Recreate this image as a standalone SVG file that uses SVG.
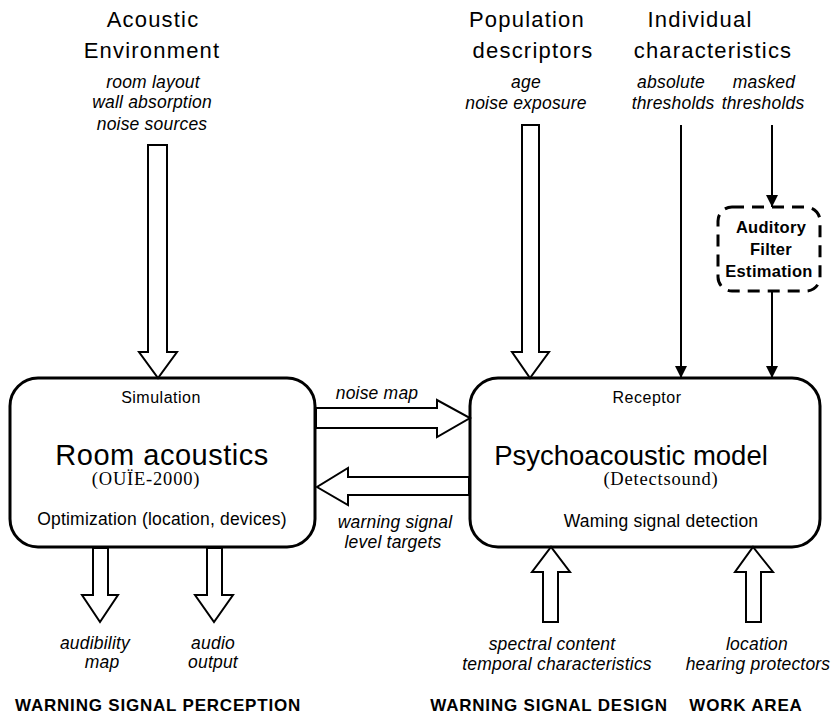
<svg xmlns="http://www.w3.org/2000/svg" width="833" height="718" viewBox="0 0 833 718">
<style>
text{font-family:"Liberation Sans",Arial,sans-serif;fill:#000;text-anchor:middle}
.t{font-size:22px;letter-spacing:1.2px}
.i{font-size:17.5px;font-style:italic;letter-spacing:0.2px}
.s{font-size:16px;letter-spacing:0.5px}
.big{font-size:29px;letter-spacing:0.5px}
.big2{font-size:27.5px}
.ser{font-family:"Liberation Serif","Times New Roman",serif;font-size:18.5px;letter-spacing:0.8px}
.m{font-size:17.5px;letter-spacing:0.2px}
.b{font-size:17px;font-weight:bold;letter-spacing:0.8px}
.af{font-size:16.5px;font-weight:bold;letter-spacing:0.3px}
.box{fill:#fff;stroke:#000;stroke-width:3}
.ha{fill:#fff;stroke:#000;stroke-width:2;stroke-linejoin:miter}
.ln{stroke:#000;stroke-width:2;fill:none}
</style>
<defs>
<marker id="ah" markerWidth="12" markerHeight="12" viewBox="0 0 12 12" refX="12" refY="6" orient="auto" markerUnits="userSpaceOnUse">
<path d="M0,0 L12,6 L0,12 Z" fill="#000"/>
</marker>
</defs>

<g id="acoustic-environment">
<text class="t" x="153" y="27">Acoustic</text>
<text class="t" x="152" y="58">Environment</text>
<text class="i" x="153" y="88">room layout</text>
<text class="i" x="152" y="108">wall absorption</text>
<text class="i" x="152" y="130">noise sources</text>
</g>

<g id="population-descriptors">
<text class="t" x="527" y="27">Population</text>
<text class="t" x="533" y="58">descriptors</text>
<text class="i" x="526" y="88">age</text>
<text class="i" x="526" y="109">noise exposure</text>
</g>

<g id="individual-characteristics">
<text class="t" x="700" y="27">Individual</text>
<text class="t" x="713" y="58">characteristics</text>
<text class="i" x="671" y="88">absolute</text>
<text class="i" x="673" y="109">thresholds</text>
<text class="i" x="764" y="88">masked</text>
<text class="i" x="763" y="109">thresholds</text>
</g>

<g id="auditory-filter-estimation">
<rect x="718" y="207" width="102" height="84" rx="14" fill="#fff" stroke="#000" stroke-width="3" stroke-dasharray="12,8"/>
<text class="af" x="771" y="233">Auditory</text>
<text class="af" x="771" y="255">Filter</text>
<text class="af" x="769" y="277">Estimation</text>
</g>

<g id="room-acoustics">
<rect class="box" x="10" y="378" width="305" height="169" rx="28"/>
<text class="s" x="161" y="403">Simulation</text>
<text class="big" x="162" y="465">Room acoustics</text>
<text class="ser" x="146" y="485">(OUÏE-2000)</text>
<text class="m" x="162" y="525">Optimization (location, devices)</text>
</g>

<g id="psychoacoustic-model">
<rect class="box" x="470" y="378" width="350" height="169" rx="28"/>
<text class="s" x="647" y="403">Receptor</text>
<text class="big2" x="631" y="465">Psychoacoustic model</text>
<text class="ser" x="661" y="485">(Detectsound)</text>
<text class="m" x="661" y="527">Waming signal detection</text>
</g>

<g id="outputs">
<text class="i" x="95" y="649">audibility</text>
<text class="i" x="102" y="668">map</text>
<text class="i" x="213" y="649">audio</text>
<text class="i" x="213" y="668">output</text>
<text class="i" x="552" y="650">spectral content</text>
<text class="i" x="557" y="670">temporal characteristics</text>
<text class="i" x="757" y="650">location</text>
<text class="i" x="758" y="670">hearing protectors</text>
</g>

<g id="section-labels">
<text class="b" x="158" y="711">WARNING SIGNAL PERCEPTION</text>
<text class="b" x="549" y="711">WARNING SIGNAL DESIGN</text>
<text class="b" x="746" y="711">WORK AREA</text>
</g>

<g id="connectors">
<polygon class="ha" points="148,145 167,145 167,352 177,352 158,378 139,352 148,352"/>
<polygon class="ha" points="522,125 539,125 539,352 549,352 530,378 512,352 522,352"/>
<line class="ln" x1="681" y1="125" x2="681" y2="378" marker-end="url(#ah)"/>
<line class="ln" x1="772" y1="125" x2="772" y2="207" marker-end="url(#ah)"/>
<line class="ln" x1="772" y1="291" x2="772" y2="378" marker-end="url(#ah)"/>
<polygon class="ha" points="316,408 437,408 437,400 470,418 437,437 437,428 316,428"/>
<text class="i" x="377" y="399">noise map</text>
<polygon class="ha" points="469,477 348,477 348,468 317,487 348,505 348,495 469,495"/>
<text class="i" x="395" y="528">warning signal</text>
<text class="i" x="393" y="548">level targets</text>
<polygon class="ha" points="93,548 108,548 108,595 118,595 100,622 82,595 93,595"/>
<polygon class="ha" points="207,548 222,548 222,595 233,595 214,622 195,595 207,595"/>
<polygon class="ha" points="543,622 558,622 558,572 570,572 551,547 532,572 543,572"/>
<polygon class="ha" points="746,622 761,622 761,572 773,572 753,547 735,572 746,572"/>
</g>
</svg>
